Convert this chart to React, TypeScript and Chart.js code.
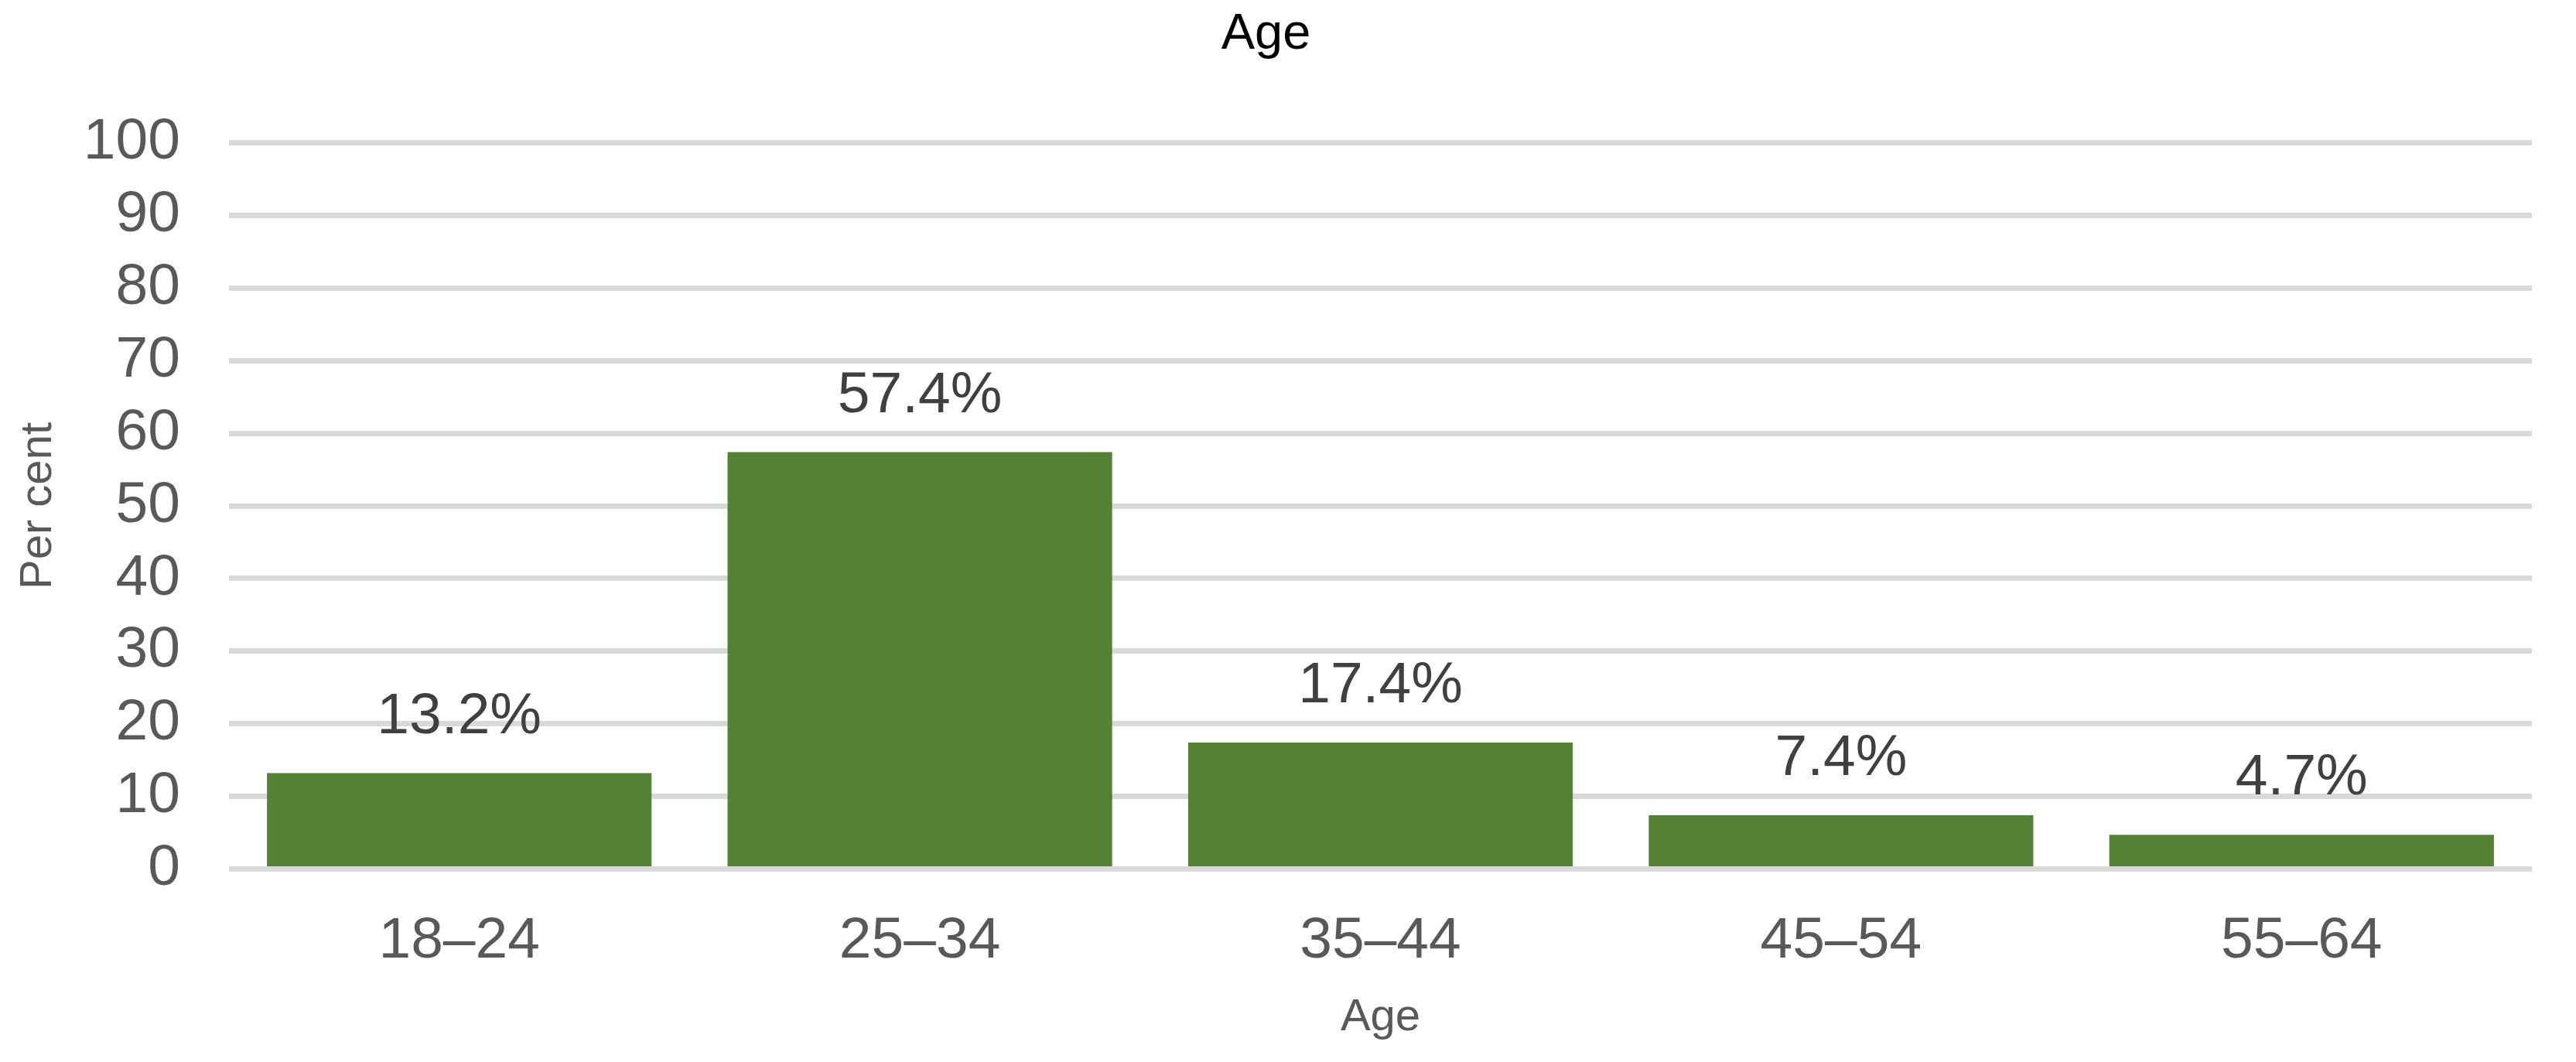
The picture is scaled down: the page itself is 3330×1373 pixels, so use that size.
import React, { useEffect, useRef } from "react";
import { Chart, registerables } from "chart.js";

Chart.register(...registerables);

const categories = ["18–24", "25–34", "35–44", "45–54", "55–64"];
const values = [13.2, 57.4, 17.4, 7.4, 4.7];
const yMin = 0;
const yMax = 100;
const yStep = 10;
const chartTitle = "Age";
const xAxisTitle = "Age";
const yAxisTitle = "Per cent";

const FONT = "'Liberation Sans', Arial, Helvetica, sans-serif";
const BAR_COLOR = "#548235";
const GRID_COLOR = "#D9D9D9";
const AXIS_TEXT = "#595959";
const LABEL_TEXT = "#404040";

const dataLabelPlugin = {
  id: "barValueLabels",
  afterDatasetsDraw(chart: any) {
    const ctx = chart.ctx;
    const meta = chart.getDatasetMeta(0);
    const data = chart.data.datasets[0].data as number[];
    ctx.save();
    ctx.font = `75px ${FONT}`;
    ctx.fillStyle = LABEL_TEXT;
    ctx.textAlign = "center";
    ctx.textBaseline = "alphabetic";
    meta.data.forEach((bar: any, i: number) => {
      ctx.fillText(`${data[i].toFixed(1)}%`, bar.x, bar.y - 52);
    });
    ctx.restore();
  },
};

export default function App() {
  const canvasRef = useRef<HTMLCanvasElement | null>(null);

  useEffect(() => {
    document.body.style.margin = "0";
    document.body.style.overflow = "hidden";
    const canvas = canvasRef.current;
    if (!canvas) return;
    const chart = new Chart(canvas, {
      type: "bar",
      data: {
        labels: categories,
        datasets: [
          {
            data: values,
            backgroundColor: BAR_COLOR,
            borderWidth: 0,
            barPercentage: 0.835,
            categoryPercentage: 1,
          },
        ],
      },
      plugins: [dataLabelPlugin],
      options: {
        responsive: false,
        animation: false,
        devicePixelRatio: 1,
        layout: { padding: { left: 0, right: 57, top: 0, bottom: 0 } },
        plugins: {
          legend: { display: false },
          tooltip: { enabled: false },
          title: {
            display: true,
            text: chartTitle,
            color: "#000000",
            font: { family: FONT, size: 65, weight: "normal", lineHeight: 1.2 },
            padding: { top: 6, bottom: 100.5 },
          },
        },
        scales: {
          x: {
            grid: { display: false, drawTicks: false },
            border: { display: false },
            ticks: {
              color: AXIS_TEXT,
              font: { family: FONT, size: 75, lineHeight: 1.2 },
              padding: 48.5,
              maxRotation: 0,
              autoSkip: false,
            },
            title: {
              display: true,
              text: xAxisTitle,
              color: AXIS_TEXT,
              font: { family: FONT, size: 58, lineHeight: 1.2 },
              padding: { top: 0, bottom: 22 },
            },
            afterFit: (s: any) => {
              s.height = 249.5;
            },
          },
          y: {
            min: yMin,
            max: yMax,
            ticks: {
              stepSize: yStep,
              color: AXIS_TEXT,
              font: { family: FONT, size: 75, lineHeight: 1.2 },
              padding: 63,
            },
            grid: { color: GRID_COLOR, lineWidth: 7, drawTicks: false },
            border: { display: false },
            title: {
              display: true,
              text: yAxisTitle,
              color: AXIS_TEXT,
              font: { family: FONT, size: 58, lineHeight: 1.2 },
              padding: { top: 15, bottom: 0 },
            },
            afterFit: (s: any) => {
              s.width = 296;
            },
          },
        },
      } as any,
    });
    return () => chart.destroy();
  }, []);

  return (
    <div style={{ width: 3330, height: 1373, background: "#ffffff" }}>
      <canvas ref={canvasRef} width={3330} height={1373} style={{ display: "block" }} />
    </div>
  );
}
